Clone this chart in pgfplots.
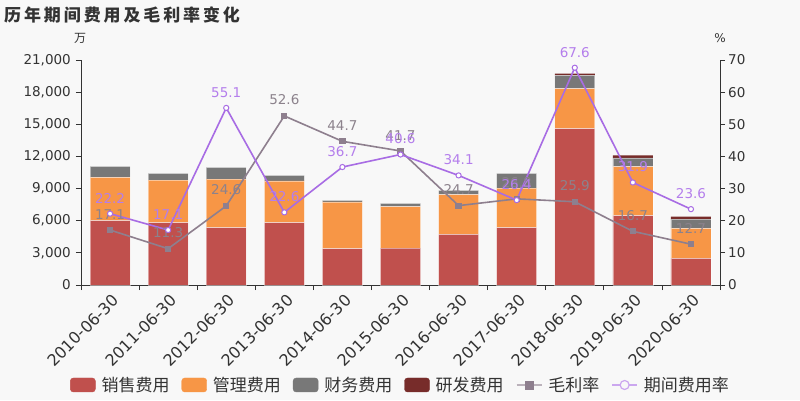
\documentclass[border=0pt]{standalone}
\usepackage{pgfplots}
\pgfplotsset{compat=1.18}
\usepackage{fontspec}
\setmainfont{DejaVu Sans}
\newfontfamily\cjk{Noto Sans CJK SC}
\newfontfamily\cjktitle[LetterSpace=17]{Noto Sans CJK SC}
\definecolor{bg}{HTML}{F8F8F8}
\definecolor{txt}{HTML}{333333}
\definecolor{sales}{HTML}{C0504D}
\definecolor{admin}{HTML}{F79646}
\definecolor{fin}{HTML}{787878}
\definecolor{rd}{HTML}{772C2A}
\definecolor{gross}{HTML}{8E7F8E}
\definecolor{period}{HTML}{A86CE4}
\definecolor{periodlbl}{HTML}{B47EEC}
\definecolor{grosslbl}{HTML}{8C828C}

\pgfplotstableread{
x sales admin fin rd
0 6000 4050 1030 0
1 5820 3980 620 0
2 5350 4540 1090 0
3 5820 3890 530 0
4 3390 4360 160 0
5 3450 3860 310 0
6 4730 3700 400 0
7 5350 3700 1370 0
8 14590 3730 1245 155
9 6470 4575 810 250
10 2490 2800 870 220
}\costs

\pgfplotstableread{
x gross period
0 17.1 22.2
1 11.3 17.1
2 24.6 55.1
3 52.6 22.6
4 44.7 36.7
5 41.7 40.6
6 24.7 34.1
7 26.8 26.4
8 25.9 67.6
9 16.7 31.9
10 12.7 23.6
}\rates

\begin{document}
\begin{tikzpicture}
\fill[bg] (0pt,0pt) rectangle (800pt,400pt);
\node[anchor=west, inner sep=0pt, text=txt, font=\cjktitle\bfseries\fontsize{17}{17}\selectfont] at (4pt,385.5pt) {历年期间费用及毛利率变化};
\node[inner sep=0pt, font=\cjk\fontsize{12}{12}\selectfont, text=txt] at (80pt,362pt) {万};
\node[inner sep=0pt, font=\fontsize{12}{12}\selectfont, text=txt] at (720pt,362pt) {\%};

\begin{axis}[
  at={(81pt,115pt)}, anchor=south west,
  width=639pt, height=225pt, scale only axis,
  xmin=-0.5, xmax=10.5, ymin=0, ymax=21000,
  axis x line*=bottom, axis y line*=left,
  axis line style={draw=txt, line width=0.8pt},
  ybar stacked, bar width=0.689,
  xtick={0,...,10},
  xticklabels={2010-06-30,2011-06-30,2012-06-30,2013-06-30,2014-06-30,2015-06-30,2016-06-30,2017-06-30,2018-06-30,2019-06-30,2020-06-30},
  minor xtick={-0.5,0.5,...,10.5},
  ytick={0,3000,...,21000},
  minor ytick={0,3000,...,21000},
  tick align=outside,
  major tick length=0pt, minor tick length=5pt,
  tick style={draw=txt, line width=0.8pt},
  minor tick style={draw=txt, line width=0.8pt},
  scaled y ticks=false,
  yticklabel style={/pgf/number format/fixed, /pgf/number format/1000 sep={,}},
  /pgf/number format/assume math mode=true,
  y tick label style={inner sep=0pt, xshift=-10pt, font=\fontsize{13.5}{13.5}\selectfont, text=txt},
  x tick label style={inner sep=0pt, yshift=-8pt, xshift=1.5pt, rotate=45, anchor=north east, font=\fontsize{16}{16}\selectfont, text=txt},
  every axis plot/.append style={draw=white, draw opacity=0.45, line width=0.6pt},
]
\addplot[fill=sales] table[x=x, y=sales] {\costs};
\addplot[fill=admin] table[x=x, y=admin] {\costs};
\addplot[fill=fin] table[x=x, y=fin] {\costs};
\addplot[fill=rd, draw=none] table[x=x, y=rd] {\costs};
\end{axis}

\begin{axis}[
  at={(81pt,115pt)}, anchor=south west,
  width=639pt, height=225pt, scale only axis,
  xmin=-0.5, xmax=10.5, ymin=0, ymax=70,
  axis x line=none, axis y line*=right,
  axis line style={draw=txt, line width=0.8pt},
  clip=false,
  ytick={0,10,...,70},
  minor ytick={0,10,...,70},
  tick align=outside,
  major tick length=0pt, minor tick length=5pt,
  tick style={draw=txt, line width=0.8pt},
  minor tick style={draw=txt, line width=0.8pt},
  /pgf/number format/assume math mode=true,
  y tick label style={inner sep=0pt, xshift=8pt, font=\fontsize{13.5}{13.5}\selectfont, text=txt},
  legend style={at={(0.4985,-0.4444)}, anchor=center, draw=none, fill=none,
    font=\cjk\fontsize{17}{17}\selectfont, text=txt,
    inner sep=0pt, nodes={inner sep=0pt},
    /tikz/every even column/.append style={column sep=12pt},
    /tikz/every odd column/.append style={column sep=6pt}},
  legend columns=6, legend cell align=left,
]
\addlegendimage{legend image code/.code={\fill[sales, rounded corners=3pt] (0pt,-7pt) rectangle (25pt,7pt);}}
\addlegendimage{legend image code/.code={\fill[admin, rounded corners=3pt] (0pt,-7pt) rectangle (25pt,7pt);}}
\addlegendimage{legend image code/.code={\fill[fin, rounded corners=3pt] (0pt,-7pt) rectangle (25pt,7pt);}}
\addlegendimage{legend image code/.code={\fill[rd, rounded corners=3pt] (0pt,-7pt) rectangle (25pt,7pt);}}
\addlegendimage{legend image code/.code={\draw[gross!60!white, line width=1.6pt] (0pt,0pt) -- (25pt,0pt); \fill[gross] (8.5pt,-4pt) rectangle (16.5pt,4pt);}}
\addlegendimage{legend image code/.code={\draw[period!60!white, line width=1.6pt] (0pt,0pt) -- (25pt,0pt); \draw[period!60!white, fill=bg, line width=1.2pt] (12.5pt,0pt) circle (4.5pt);}}

\addplot[forget plot, color=gross, line width=1.6pt, mark=square*, mark size=2.3pt, mark options={fill=gross, draw=gross},
  nodes near coords, point meta=y,
  every node near coord/.append style={anchor=south, inner sep=0pt, yshift=10pt, text=grosslbl, font=\fontsize{13.5}{13.5}\selectfont,
    /pgf/number format/fixed, /pgf/number format/precision=1, /pgf/number format/zerofill}]
  table[x=x, y=gross] {\rates};
\addplot[forget plot, color=period, line width=1.6pt, mark=*, mark size=2.6pt, mark options={fill=white, draw=period, line width=1pt},
  nodes near coords, point meta=y,
  every node near coord/.append style={anchor=south, inner sep=0pt, yshift=10pt, text=periodlbl, font=\fontsize{13.5}{13.5}\selectfont,
    /pgf/number format/fixed, /pgf/number format/precision=1, /pgf/number format/zerofill}]
  table[x=x, y=period] {\rates};
\legend{销售费用,管理费用,财务费用,研发费用,毛利率,期间费用率}
\end{axis}
\end{tikzpicture}
\end{document}
